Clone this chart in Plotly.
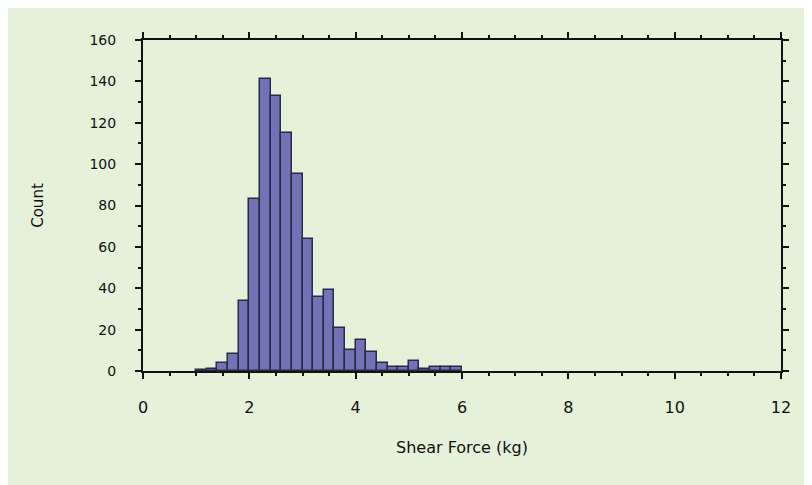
import plotly.graph_objects as go

# Histogram of shear force, bin width 0.2 kg (left edges)
bin_left = [1.0, 1.2, 1.4, 1.6, 1.8, 2.0, 2.2, 2.4, 2.6, 2.8, 3.0, 3.2, 3.4, 3.6,
            3.8, 4.0, 4.2, 4.4, 4.6, 4.8, 5.0, 5.2, 5.4, 5.6, 5.8]
counts = [0.5, 1, 4, 8, 34, 83, 141, 133, 115, 95, 64, 36, 39, 21,
          10, 15, 9, 4, 2, 2, 5, 1, 2, 2, 2]
bin_width = 0.2

x_ticks = [0, 2, 4, 6, 8, 10, 12]
y_ticks = [0, 20, 40, 60, 80, 100, 120, 140, 160]

GREEN = "#e5f1d8"
BAR = "#7272b6"
EDGE = "#2a2a44"
FONT = "DejaVu Sans"

fig = go.Figure()
fig.add_trace(go.Bar(
    x=bin_left, y=counts, width=[bin_width] * len(bin_left), offset=0,
    marker=dict(color=BAR, line=dict(color=EDGE, width=1.5)),
    showlegend=False,
))

# page body margin (8px) supplies the thin white border on top/left
W, H = 812, 485
L, R, T, B = 135, 39, 32, 122

axis_common = dict(
    showline=True, linecolor="#111111", linewidth=2, mirror="allticks",
    ticks="outside", ticklen=6, tickwidth=1.5, tickcolor="#111111",
    showgrid=False, zeroline=False,
)

fig.update_layout(
    width=W, height=H,
    margin=dict(l=L, r=R, t=T, b=B),
    paper_bgcolor=GREEN,
    plot_bgcolor=GREEN,
    bargap=0,
    font=dict(family=FONT, color="#111111"),
    xaxis=dict(
        range=[0, 12], tickvals=x_ticks, ticktext=[str(v) for v in x_ticks],
        tickfont=dict(size=16), ticklabelstandoff=15,
        minor=dict(dtick=0.5, ticks="outside", ticklen=3, tickwidth=1.5, tickcolor="#111111"),
        title=dict(text="Shear Force (kg)", font=dict(size=16), standoff=26),
        **axis_common,
    ),
    yaxis=dict(
        range=[0, 160], tickvals=y_ticks, ticktext=[str(v) for v in y_ticks],
        tickfont=dict(size=14), ticklabelstandoff=16,
        minor=dict(dtick=10, ticks="outside", ticklen=3, tickwidth=1.5, tickcolor="#111111"),
        title=dict(text="Count", font=dict(size=15), standoff=42),
        **axis_common,
    ),
)

fig.write_html("out.html")
